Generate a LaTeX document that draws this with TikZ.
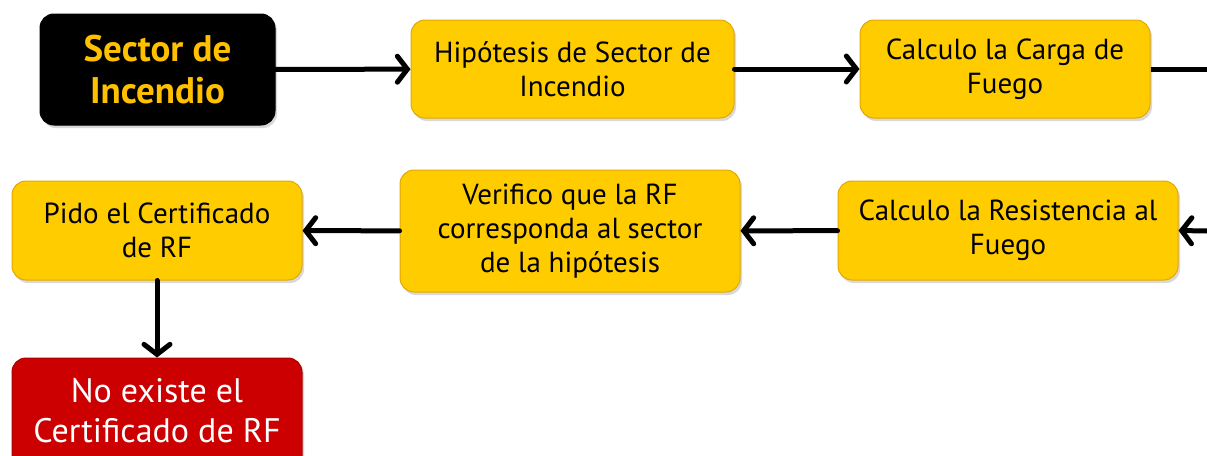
\documentclass[tikz,border=0pt]{standalone}
\usepackage{fontspec}
\setmainfont{PT Sans}
\usetikzlibrary{arrows.meta,shadows}

\definecolor{boxyellow}{RGB}{255,204,0}
\definecolor{boxedge}{RGB}{226,168,0}
\definecolor{boxred}{RGB}{204,0,0}
\definecolor{rededge}{RGB}{170,0,0}
\definecolor{titleyellow}{RGB}{255,192,0}

\begin{document}
\begin{tikzpicture}[x=1pt,y=1pt,yscale=-1,xscale=1,
	stepbox/.style={draw=boxedge, fill=boxyellow, line width=1pt, rounded corners=14pt,
		align=center, text=black, font=\fontsize{29}{34}\selectfont,
		drop shadow={shadow xshift=2pt, shadow yshift=-3pt, opacity=0.3}},
	titlebox/.style={stepbox, draw=black, fill=black, text=titleyellow,
		font=\fontsize{37}{42}\selectfont\bfseries},
	endbox/.style={stepbox, draw=rededge, fill=boxred, text=white,
		font=\fontsize{34}{40}\selectfont},
	flow/.style={line width=5pt, line cap=round,
		-{Straight Barb[length=10pt,width=26pt,line cap=round]}}]
		% Set diagram size: 1207 x 455, the lower box is cut off
		\clip (0,0) rectangle (1207,455);

		% Top row
		\node[titlebox, minimum width=235pt, minimum height=111pt] (sector) at (157.5,69.5) {Sector de\\Incendio};
		\node[stepbox, minimum width=323pt, minimum height=98pt] (hipotesis) at (572.5,69) {Hipótesis de Sector de\\Incendio};
		\node[stepbox, minimum width=290pt, minimum height=98pt] (carga) at (1005,69) {Calculo la Carga de\\Fuego};

		% Second row
		\node[stepbox, minimum width=340pt, minimum height=99pt] (resistencia) at (1008,230.5) {Calculo la Resistencia al\\Fuego};
		\node[stepbox, minimum width=340pt, minimum height=122pt] (verifico) at (570,231) {Verifico que la RF\\corresponda al sector\\de la hipótesis};
		\node[stepbox, minimum width=290pt, minimum height=99pt] (pido) at (157,230.5) {Pido el Certificado\\de RF};

		% Red box at the bottom
		\node[endbox, minimum width=290pt, minimum height=112pt, text depth=8pt] (noexiste) at (157,414) {No existe el\\Certificado de RF};

		% Free ends at the right edge
		\coordinate (cargaout) at (1207,69);
		\coordinate (resisin) at (1207,231);

		% Connectors
		\draw[flow] (sector) -- (hipotesis);
		\draw[flow] (hipotesis) -- (carga);
		\draw[line width=5pt] (carga.east) -- (cargaout);
		\draw[flow] (resisin) -- (resistencia.east);
		\draw[flow] (resistencia) -- (verifico);
		\draw[flow] (verifico) -- (pido);
		\draw[flow] (pido) -- (noexiste);
	\end{tikzpicture}
\end{document}
